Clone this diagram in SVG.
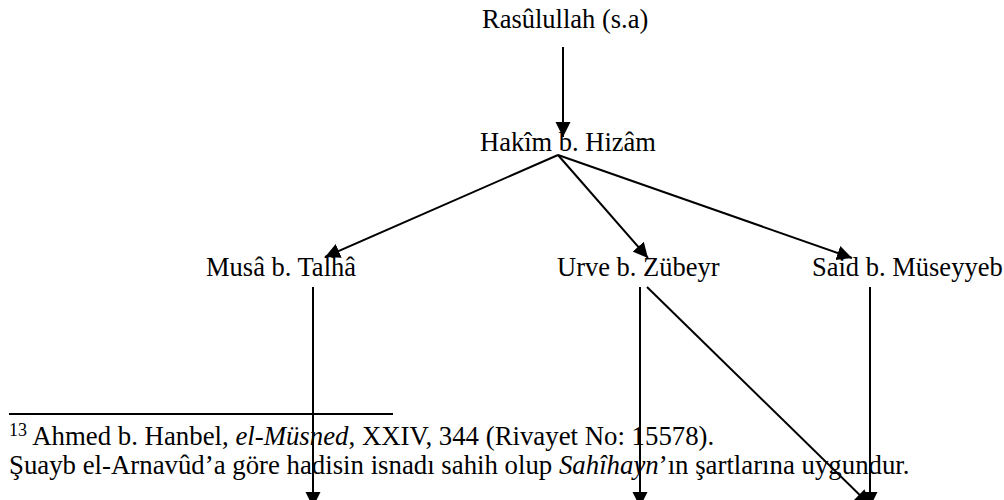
<svg xmlns="http://www.w3.org/2000/svg" width="1004" height="500" viewBox="0 0 1004 500" font-family="'Liberation Serif', 'Times New Roman', serif">
<style>
text{font-family:"Liberation Serif","Times New Roman",serif;font-size:26.5px;fill:#000}
.edge{stroke:#000;stroke-width:2;fill:none;marker-end:url(#ah)}
.fn{font-size:26.8px}
</style>
<defs>
<marker id="ah" viewBox="0 0 10 10" refX="10" refY="5" markerWidth="15" markerHeight="16" markerUnits="userSpaceOnUse" orient="auto">
<path d="M0,0 L10,5 L0,10 z" fill="#000"/>
</marker>
</defs>
<rect width="1004" height="500" fill="#fff"/>
<g id="n-rasulullah"><text x="482" y="28">Rasûlullah (s.a)</text></g>
<g id="n-hakim"><text x="480" y="151">Hakîm b. Hizâm</text></g>
<g id="n-musa"><text x="206" y="276">Musâ b. Talhâ</text></g>
<g id="n-urve"><text x="557" y="276">Urve b. Zübeyr</text></g>
<g id="n-said"><text x="812" y="276">Said b. Müseyyeb</text></g>
<g id="footnote">
<line x1="9" y1="414" x2="393" y2="414" stroke="#000" stroke-width="2"/>
<text class="fn" x="9" y="445"><tspan font-size="18" dy="-9">13</tspan><tspan dy="9"> Ahmed b. Hanbel, </tspan><tspan font-style="italic">el-Müsned</tspan>, XXIV, 344 (Rivayet No: 15578).</text>
<text class="fn" x="9" y="474">Şuayb el-Arnavûd’a göre hadisin isnadı sahih olup <tspan font-style="italic">Sahîhayn</tspan>’ın şartlarına uygundur.</text>
</g>
<g id="connectors">
<line class="edge" x1="563" y1="47" x2="563" y2="137"/>
<line class="edge" x1="558" y1="155" x2="325" y2="257"/>
<line class="edge" x1="558" y1="155" x2="648" y2="258"/>
<line class="edge" x1="558" y1="155" x2="852" y2="258"/>
<line class="edge" x1="313" y1="287" x2="313" y2="507"/>
<line class="edge" x1="640" y1="287" x2="640" y2="507"/>
<line class="edge" x1="647" y1="287" x2="870" y2="505"/>
<line class="edge" x1="870" y1="287" x2="870" y2="507"/>
</g>
</svg>
